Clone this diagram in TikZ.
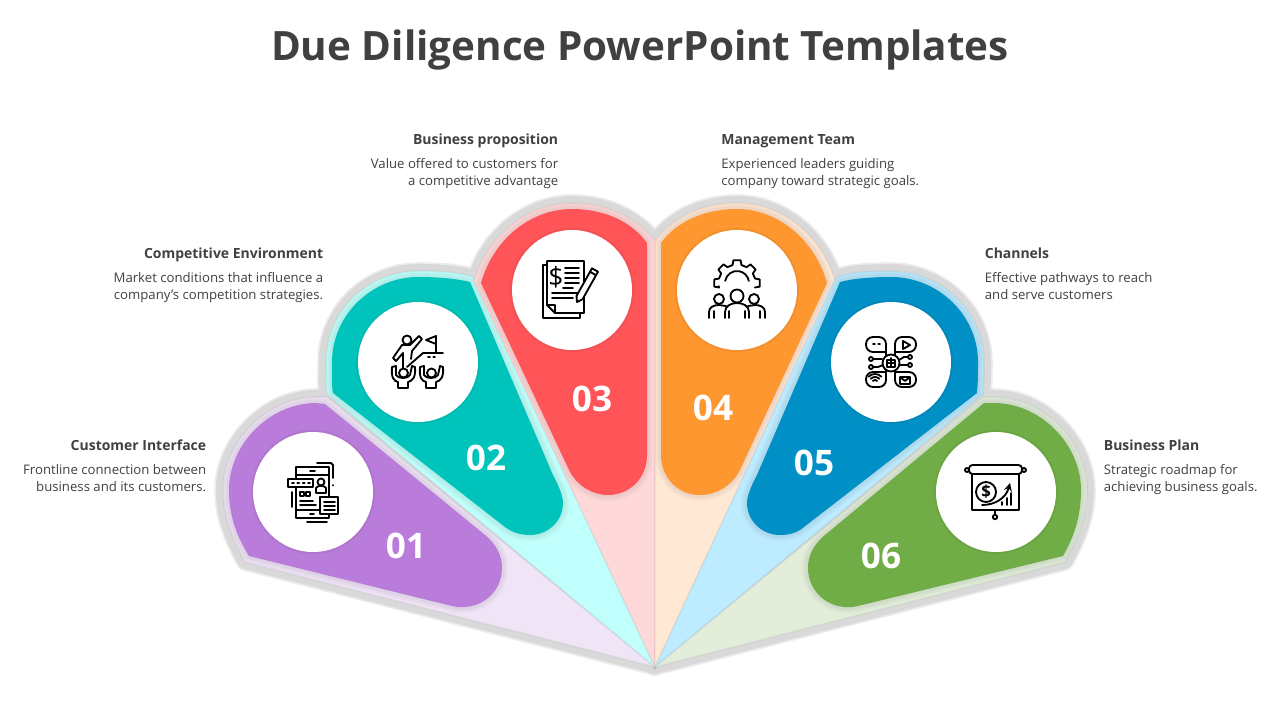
\documentclass[tikz,border=0pt]{standalone}
\usepackage{fontspec}
\setmainfont{Open Sans}
\definecolor{inkdark}{HTML}{404040}
\definecolor{halogrey}{HTML}{D9D9D9}
\definecolor{purpleA}{HTML}{B97CDA}\definecolor{purpleB}{HTML}{F0E4F7}
\definecolor{tealA}{HTML}{00C4BB}\definecolor{tealB}{HTML}{C0FFFB}
\definecolor{redA}{HTML}{FF5558}\definecolor{redB}{HTML}{FFD9D9}
\definecolor{orangeA}{HTML}{FF9730}\definecolor{orangeB}{HTML}{FFE8D4}
\definecolor{blueA}{HTML}{0090C6}\definecolor{blueB}{HTML}{BDEBFF}
\definecolor{greenA}{HTML}{70AD47}\definecolor{greenB}{HTML}{E2EEDA}
% Wedges from the apex
\def\wedgeA{(655,667) -- (245,562) .. controls (231,537) and (223,515) .. (223,490) .. controls (223,441) and (268,397) .. (316,397) -- (327,397) -- cycle}
\def\wedgeB{(655,667) -- (327,394) .. controls (325,383) and (326,372) .. (326,362) .. controls (326,311) and (368,271) .. (418,271) .. controls (445,271) and (462,273) .. (473,277) -- cycle}
\def\wedgeC{(655,667) -- (474,281) .. controls (487,236) and (527,203) .. (572,203) .. controls (608,203) and (637,218) .. (655,241) -- cycle}
\def\wedgeD{(655,667) -- (835,281) .. controls (822,236) and (782,203) .. (737,203) .. controls (701,203) and (672,218) .. (655,241) -- cycle}
\def\wedgeE{(655,667) -- (983,394) .. controls (984,383) and (984,372) .. (984,362) .. controls (984,311) and (941,271) .. (891,271) .. controls (864,271) and (847,273) .. (836,277) -- cycle}
\def\wedgeF{(655,667) -- (1065,562) .. controls (1079,537) and (1087,515) .. (1087,490) .. controls (1087,441) and (1043,397) .. (994,397) -- (983,397) -- cycle}
% Petal outlines
\def\petalA{(452,606) -- (249,556) .. controls (236,535) and (229,515) .. (229,490) .. controls (229,444) and (270,403) .. (316,403) -- (325,404) -- (485,535) .. controls (497,545) and (502,556) .. (502,568) .. controls (502,594) and (478,612) .. (452,606) -- cycle}
\def\petalB{(505,527) -- (333,393) .. controls (331,383) and (332,372) .. (332,362) .. controls (332,315) and (372,277) .. (418,277) .. controls (440,277) and (458,279) .. (470,282) -- (553,475) .. controls (560,488) and (563,497) .. (563,503) .. controls (563,521) and (548,535) .. (530,535) .. controls (521,535) and (513,533) .. (505,527) -- cycle}
\def\petalC{(570,472) -- (481,283) .. controls (493,240) and (530,209) .. (572,209) .. controls (605,209) and (632,222) .. (647,243) -- (647,455) .. controls (647,478) and (630,495) .. (608,495) .. controls (592,495) and (578,486) .. (570,472) -- cycle}
\def\petalD{(739,472) -- (827,283) .. controls (815,240) and (778,209) .. (737,209) .. controls (704,209) and (676,222) .. (661,243) -- (661,455) .. controls (661,478) and (678,495) .. (700,495) .. controls (716,495) and (731,486) .. (739,472) -- cycle}
\def\petalE{(804,527) -- (977,393) .. controls (978,383) and (978,372) .. (978,362) .. controls (978,315) and (938,277) .. (891,277) .. controls (869,277) and (851,279) .. (840,282) -- (757,475) .. controls (750,488) and (747,497) .. (747,503) .. controls (747,521) and (762,535) .. (780,535) .. controls (789,535) and (797,533) .. (804,527) -- cycle}
\def\petalF{(858,606) -- (1063,556) .. controls (1075,535) and (1081,515) .. (1081,490) .. controls (1081,444) and (1040,403) .. (994,403) -- (984,403) -- (825,535) .. controls (813,545) and (808,556) .. (808,568) .. controls (808,594) and (832,612) .. (858,606) -- cycle}
\begin{document}
\begin{tikzpicture}[x=0.02cm, y=-0.02cm]
  \tikzstyle{title}=[font=\fontsize{23}{28}\selectfont\bfseries, text=inkdark, inner sep=0pt]
  \tikzstyle{heading}=[font=\fontsize{7.95}{10}\selectfont\bfseries, text=inkdark, inner sep=0pt, text height=6pt, text depth=2pt]
  \tikzstyle{body}=[font=\fontsize{7.5}{9.64}\selectfont, text=inkdark, inner sep=0pt, text height=15pt, text depth=2pt]
  \tikzstyle{number}=[font=\fontsize{20}{24}\selectfont\bfseries, text=white, inner sep=0pt]
  \tikzstyle{disc}=[circle, fill=white, minimum size=2.4cm, inner sep=0pt]
  \tikzstyle{icon}=[draw=black, line width=1.05pt, line join=round, line cap=round]
  \tikzstyle{iconfill}=[icon, fill=white]
  \tikzstyle{halo}=[draw=halogrey, line width=8pt, line join=round]
  \tikzstyle{seam}=[draw=black, opacity=0.04, line width=1pt]
  \tikzstyle{soft}=[draw=black, opacity=0.025, line join=round]
  \useasboundingbox (0,0) rectangle (1280,720);

  % Grey halo
  \foreach \w in {\wedgeA,\wedgeB,\wedgeC,\wedgeD,\wedgeE,\wedgeF}
    \draw[draw=halogrey!50, line width=10pt, line join=round] \w;
  \foreach \w in {\wedgeA,\wedgeB,\wedgeC,\wedgeD,\wedgeE,\wedgeF}
    \draw[halo] \w;

  % Petals
  \foreach \w/\p/\col in {\wedgeA/\petalA/purple, \wedgeB/\petalB/teal, \wedgeC/\petalC/red,
                          \wedgeD/\petalD/orange, \wedgeE/\petalE/blue, \wedgeF/\petalF/green} {
    \fill[fill=\col B] \w;
    \draw[seam] \w;
    \begin{scope}
      \clip \w;
      \draw[soft, line width=7pt] \p;
      \draw[soft, line width=5pt] \p;
      \draw[soft, line width=3pt] \p;
    \end{scope}
    \fill[fill=\col A] \p;
  }

  % Discs
  \foreach \n/\x/\y in {1/313/492, 2/418/362, 3/572/290, 4/737/290, 5/891/362, 6/996/492} {
    \fill[black, opacity=0.05] (\x,\y) circle[radius=62];
    \node[disc] (disc\n) at (\x,\y) {};
  }

  % Numbers
  \node[number] (num1) at (406,546) {01};
  \node[number] (num2) at (486,458) {02};
  \node[number] (num3) at (592,399) {03};
  \node[number] (num4) at (713,408) {04};
  \node[number] (num5) at (814,463) {05};
  \node[number] (num6) at (881,556) {06};

  % Icon 01
  \draw[iconfill] (296,467) rectangle (329,518);
  \draw[icon] (296,475) -- (329,475) (296,510) -- (329,510);
  \draw[icon] (310,471) -- (315,471) (310,514) -- (314,514);
  \draw[iconfill] (288,479) rectangle (313,487);
  \draw[icon, dotted] (292,483) -- (310,483);
  \draw[icon] (321,482) circle[radius=3.5];
  \draw[icon] (316,493) -- (316,488) .. controls (318,485) and (324,485) .. (326,488) -- (326,493) -- cycle;
  \draw[icon] (300,492) rectangle (304,496) (306,492) rectangle (310,496);
  \draw[icon] (300,501) -- (313,501) (300,505) -- (316,505);
  \draw[iconfill] (320,497) rectangle (338,514);
  \draw[icon] (324,502) -- (335,502) (324,506) -- (335,506) (324,510) -- (335,510);
  \draw[icon] (307,522) -- (327,522);
  \draw[icon] (317,463) -- (331,463) -- (333,465) -- (333,478) (333,485) -- (333,485.5);
  \draw[icon] (292,492) -- (292,507);

  % Icon 02
  \draw[icon] (407,340) circle[radius=4.5];
  \draw[icon] (396,361) -- (393,358) -- (402,345) -- (410,345) -- (419,336) -- (422,339) -- (412,351) -- (411,359);
  \draw[icon] (396,361) -- (403,353) -- (403,368);
  \draw[icon] (443,353) -- (423,353) -- (407,367);
  \draw[icon] (436,353) -- (436,336) -- (426,340) -- (436,344);
  \draw[icon, dotted] (428,357) -- (435,357);
  \foreach \dx in {0,28} {
    \begin{scope}[shift={(\dx,0)}]
      \draw[iconfill] (392,367) .. controls (391,378) and (394,381) .. (398,382) -- (398,388) -- (408,388) -- (408,382) .. controls (412,381) and (416,378) .. (415,367) -- (412,366) -- (410,375) .. controls (408,379) and (398,379) .. (396,375) -- (396,366) -- cycle;
      \draw[iconfill] (403.5,373) circle[radius=4.5];
    \end{scope}
  }

  % Icon 03
  \draw[iconfill] (543,265) rectangle (580,318);
  \draw[iconfill] (547,261) -- (584,261) -- (584,313) -- (555,313) -- (547,305) -- cycle;
  \draw[icon] (547,305) -- (555,305) -- (555,313);
  \node[font=\fontsize{15}{15}\selectfont, inner sep=0pt] (dollar3) at (556,277) {\$};
  \foreach \y in {268,273,278,283}
    \draw[icon] (565,\y) -- (579,\y);
  \draw[icon] (563,288) -- (573,288);
  \draw[icon] (552,293) -- (579,293) (552,298) -- (573,298);
  \draw[iconfill] (577,302) -- (576.5,295.9) -- (592,268.3) -- (598,271.7) -- (582.5,299.3) -- cycle;
  \draw[icon] (590,271.8) -- (596,275.2);

  % Icon 04
  \begin{scope}[shift={(737,283)}]
    \draw[icon] (170:18.5) \foreach \a in {-180,-135,-90,-45,0} {
      -- (\a-14:18.5) -- (\a-9:23) -- (\a+9:23) -- (\a+14:18.5) };
    \draw[icon] (-170:12) arc[start angle=-170, end angle=-10, radius=12];
  \end{scope}
  \draw[iconfill] (725,318) -- (725,312) .. controls (725,306) and (731,303) .. (737,303) .. controls (743,303) and (749,306) .. (749,312) -- (749,318);
  \draw[iconfill] (737,296) circle[radius=6.5];
  \draw[iconfill] (719,299) circle[radius=5];
  \draw[iconfill] (754,299) circle[radius=5];
  \draw[icon] (709,318) -- (709,312) .. controls (709,307) and (714,305) .. (719,305) -- (726,306);
  \draw[icon] (765,318) -- (765,312) .. controls (765,307) and (760,305) .. (755,305) -- (748,306);
  \foreach \x in {714,729,745,760}
    \draw[icon] (\x,311) -- (\x,318);

  % Icon 05
  \draw[icon, rounded corners=4pt] (886,358) -- (886,337) -- (866,337) -- (866,352) -- (886,352);
  \draw[icon, rounded corners=4pt] (895,358) -- (895,337) -- (916,337) -- (916,352) -- (895,352);
  \draw[icon, rounded corners=4pt] (886,368) -- (886,387) -- (866,387) -- (866,372) -- (886,372);
  \draw[icon, rounded corners=4pt] (895,368) -- (895,387) -- (916,387) -- (916,372) -- (895,372);
  \draw[icon, dotted] (873,344) -- (880,344);
  \draw[icon] (903,341) -- (910,345) -- (903,349) -- cycle;
  \foreach \r in {3,6,9}
    \draw[icon] (-135:\r) ++(875,383) arc[start angle=-135, end angle=-45, radius=\r];
  \draw[icon] (900,377) rectangle (910,384) (900,377) -- (905,381) -- (910,377);
  \draw[iconfill] (891,363) circle[radius=8.5];
  \draw[icon] (887,360) rectangle (895,367) (891,358) -- (891,367) (887,363) -- (895,363);
  \draw[icon] (873,359) -- (882,359) (873,367) -- (878,367) -- (883,365);
  \draw[icon] (899,360) -- (904,357) -- (908,357) (899,365) -- (908,365);
  \draw[icon] (871,359) circle[radius=2] (871,367) circle[radius=2];
  \draw[icon] (910,357) circle[radius=2] (910,365) circle[radius=2];

  % Icon 06
  \draw[icon] (972,474) rectangle (1019,510);
  \draw[iconfill, rounded corners=2pt] (969,465) rectangle (1022,474);
  \draw[icon] (967,470) circle[radius=2] (1024,470) circle[radius=2];
  \draw[icon] (986,492) circle[radius=10];
  \node[font=\fontsize{9.5}{10}\selectfont\bfseries, inner sep=0pt] (dollar6) at (986,492) {\$};
  \draw[icon, ->, >=stealth] (982,505) .. controls (995,505) and (1006,498) .. (1010,483);
  \draw[icon] (1002,505) -- (1002,502) (1007,505) -- (1007,498) (1011,505) -- (1011,493);
  \draw[icon] (995,510) -- (995,515);
  \draw[icon] (995,517) circle[radius=2.2];

  % Title
  \node[title] (title) at (640,50.5) {Due Diligence PowerPoint Templates};

  % Labels, left side
  \node[heading, anchor=east] (head1) at (206.5,446.5) {Customer Interface};
  \node[body, anchor=east, align=right] (text1) at (206.5,480.5) {Frontline connection between\\business and its customers.};
  \node[heading, anchor=east] (head2) at (323.5,254.5) {Competitive Environment};
  \node[body, anchor=east, align=right] (text2) at (323.5,288.5) {Market conditions that influence a\\company's competition strategies.};
  \node[heading, anchor=east] (head3) at (558.5,140.5) {Business proposition};
  \node[body, anchor=east, align=right] (text3) at (558.5,174.5) {Value offered to customers for\\a competitive advantage};

  % Labels, right side
  \node[heading, anchor=west] (head4) at (721,140.5) {Management Team};
  \node[body, anchor=west, align=left] (text4) at (721,174.5) {Experienced leaders guiding\\company toward strategic goals.};
  \node[heading, anchor=west] (head5) at (984.5,254.5) {Channels};
  \node[body, anchor=west, align=left] (text5) at (984.5,288.5) {Effective pathways to reach\\and serve customers};
  \node[heading, anchor=west] (head6) at (1103.5,446.5) {Business Plan};
  \node[body, anchor=west, align=left] (text6) at (1103.5,480.5) {Strategic roadmap for\\achieving business goals.};
\end{tikzpicture}
\end{document}
